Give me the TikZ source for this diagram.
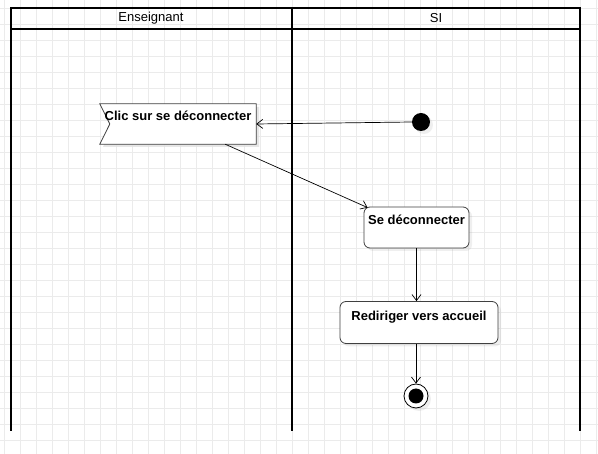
\documentclass[tikz,border=0pt]{standalone}
\usepackage{fontspec}
\setmainfont{Liberation Sans}
\usepackage{tikz}
\usetikzlibrary{calc, arrows.meta, shadows}

\tikzset{
    lane/.style={draw=black, line width=2pt},
    gridline/.style={draw=black!8, line width=0.8pt},
    action/.style={draw=black!75, fill=white, rounded corners=6pt, line width=0.8pt,
        font=\fontsize{13}{15}\selectfont\bfseries, inner ysep=0pt, text depth=23pt,
        drop shadow={shadow xshift=3pt, shadow yshift=-3pt, opacity=0.12}},
    flow/.style={draw=black, line width=0.7pt, -{Straight Barb[length=6pt, width=9pt]}}
}

\begin{document}
\begin{tikzpicture}[x=1pt, y=-1pt]
                \useasboundingbox (0,0) rectangle (598,454);
                \fill[white] (0,0) rectangle (598,454);
                % grille de fond
                \foreach \gx in {0,...,37} {
                    \draw[gridline] (4.3+16*\gx,0) -- (4.3+16*\gx,454);
                }
                \foreach \gy in {0,...,28} {
                    \draw[gridline] (0,8.7+16*\gy) -- (598,8.7+16*\gy);
                }
                % couloirs
                \draw[lane] (11,8) rectangle (580,29);
                \draw[lane] (11,29) -- (11,431);
                \draw[lane] (292,8) -- (292,431);
                \draw[lane] (580,29) -- (580,431);
                \node[font=\fontsize{13}{15}\selectfont] (ens) at (151,18.5) {Enseignant};
                \node[font=\fontsize{13}{15}\selectfont] (si) at (436,18.5) {SI};
                % noeuds
                \node[circle, fill=black, minimum size=18pt, inner sep=0pt,
                      drop shadow={shadow xshift=3pt, shadow yshift=-3pt, opacity=0.12}] (debut) at (421,122) {};
                \fill[black!12, opacity=0.8] (103,107) -- (259,107) -- (259,147) -- (103,147) -- (113,127) -- cycle;
                \node[minimum width=156pt, minimum height=40pt, inner ysep=0pt, text height=17pt, text depth=23pt,
                      font=\fontsize{13}{15}\selectfont\bfseries] (clic) at (178,124) {\phantom{Clic sur se déconnecter}};
                \draw[draw=black!75, fill=white, line width=0.8pt] (clic.north west) -- (clic.north east) -- (clic.south east)
                    -- (clic.south west) -- ($(clic.west)+(10,0)$) -- cycle;
                \node[font=\fontsize{13}{15}\selectfont\bfseries, text height=17pt, text depth=23pt, inner ysep=0pt] (clictxt) at (clic) {Clic sur se déconnecter};
                \node[action, minimum width=105pt, minimum height=41pt, text height=18pt] (sedec) at (416.5,227.5) {Se déconnecter};
                \node[action, minimum width=158pt, minimum height=41pt, text height=19pt] (redir) at (419,322.5) {Rediriger vers accueil};
                \node[circle, draw=black, fill=white, line width=0.8pt, minimum size=24pt, inner sep=0pt,
                      drop shadow={shadow xshift=3pt, shadow yshift=-3pt, opacity=0.12}] (fin) at (416,396) {};
                \fill[black] (fin) circle (7.5pt);
                % transitions
                \draw[flow] (debut.west) -- (clic.east);
                \draw[flow] ([xshift=-31pt]clic.south east) -- ([xshift=4pt, yshift=-1pt]sedec.north west);
                \draw[flow] (sedec.south) -- (sedec.south |- redir.north);
                \draw[flow] (redir.south -| fin.north) -- (fin.north);
            \end{tikzpicture}
\end{document}
